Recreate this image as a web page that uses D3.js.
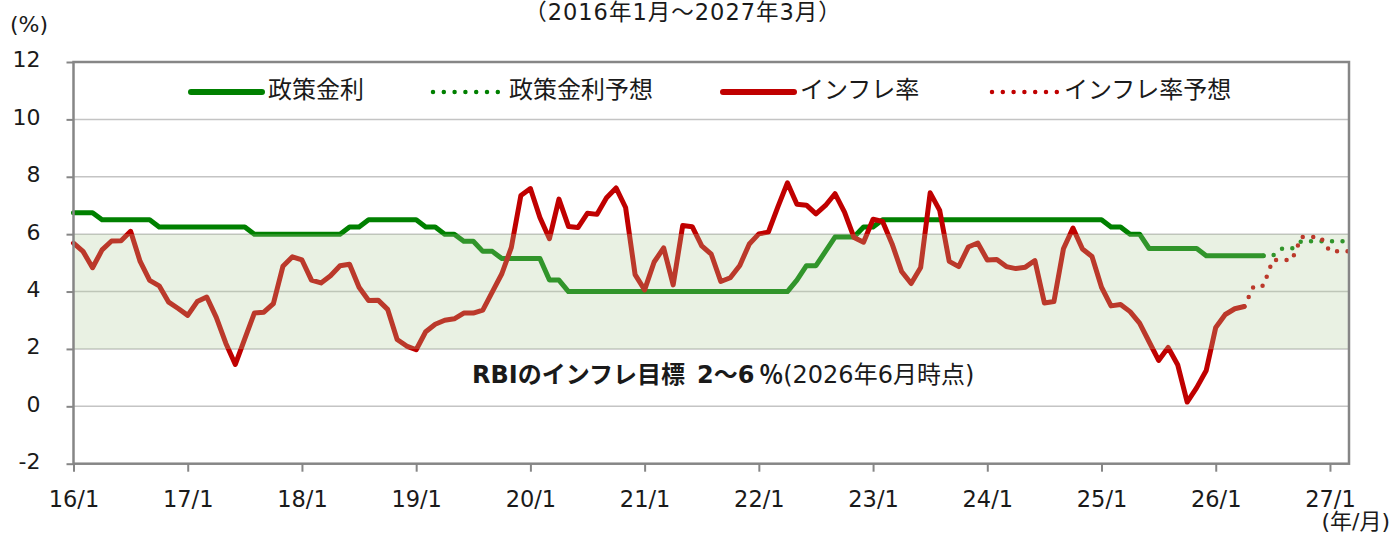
<!DOCTYPE html>
<html>
<head>
<meta charset="utf-8">
<script src="https://cdn.jsdelivr.net/npm/d3@7"></script>
<style>
  body { margin: 0; background: #fff; }
  svg text { font-family: "DejaVu Sans", "Noto Sans CJK JP", sans-serif; fill: #1a1a1a; }
</style>
</head>
<body>
<script>
// monthly, starting 2016/1
const startYear = 2016;
const policyRate = [
  6.75, 6.75, 6.75, 6.5, 6.5, 6.5, 6.5, 6.5, 6.5, 6.25, 6.25, 6.25,
  6.25, 6.25, 6.25, 6.25, 6.25, 6.25, 6.25, 6.0, 6.0, 6.0, 6.0, 6.0,
  6.0, 6.0, 6.0, 6.0, 6.0, 6.25, 6.25, 6.5, 6.5, 6.5, 6.5, 6.5,
  6.5, 6.25, 6.25, 6.0, 6.0, 5.75, 5.75, 5.4, 5.4, 5.15, 5.15, 5.15,
  5.15, 5.15, 4.4, 4.4, 4.0, 4.0, 4.0, 4.0, 4.0, 4.0, 4.0, 4.0,
  4.0, 4.0, 4.0, 4.0, 4.0, 4.0, 4.0, 4.0, 4.0, 4.0, 4.0, 4.0,
  4.0, 4.0, 4.0, 4.0, 4.4, 4.9, 4.9, 5.4, 5.9, 5.9, 5.9, 6.25,
  6.25, 6.5, 6.5, 6.5, 6.5, 6.5, 6.5, 6.5, 6.5, 6.5, 6.5, 6.5,
  6.5, 6.5, 6.5, 6.5, 6.5, 6.5, 6.5, 6.5, 6.5, 6.5, 6.5, 6.5,
  6.5, 6.25, 6.25, 6.0, 6.0, 5.5, 5.5, 5.5, 5.5, 5.5, 5.5, 5.25,
  5.25, 5.25, 5.25, 5.25, 5.25, 5.25
];
const policyForecastStart = 125; // 2026/6
const policyForecast = [5.25, 5.25, 5.5, 5.5, 5.75, 5.75, 5.75, 5.75, 5.75, 5.75];

const inflation = [
  5.69, 5.4, 4.83, 5.45, 5.76, 5.77, 6.1, 5.05, 4.39, 4.2, 3.63, 3.41,
  3.17, 3.65, 3.81, 3.1, 2.2, 1.46, 2.36, 3.25, 3.28, 3.58, 4.88, 5.21,
  5.1, 4.4, 4.3, 4.55, 4.9, 4.95, 4.15, 3.69, 3.7, 3.38, 2.33, 2.1,
  1.97, 2.6, 2.86, 3.0, 3.05, 3.25, 3.25, 3.35, 3.99, 4.62, 5.54, 7.35,
  7.59, 6.58, 5.84, 7.22, 6.27, 6.23, 6.73, 6.69, 7.27, 7.61, 6.93, 4.59,
  4.06, 5.03, 5.52, 4.23, 6.3, 6.26, 5.59, 5.3, 4.35, 4.48, 4.91, 5.66,
  6.01, 6.07, 6.95, 7.79, 7.04, 7.01, 6.71, 7.0, 7.41, 6.77, 5.88, 5.72,
  6.52, 6.44, 5.66, 4.7, 4.28, 4.84, 7.44, 6.83, 5.05, 4.87, 5.55, 5.69,
  5.1, 5.12, 4.87, 4.8, 4.85, 5.08, 3.6, 3.65, 5.49, 6.21, 5.48, 5.22,
  4.15, 3.5, 3.55, 3.3, 2.9, 2.25, 1.6, 2.05, 1.45, 0.15, 0.65, 1.25,
  2.75, 3.2, 3.4, 3.48
];
const inflationForecastStart = 123; // 2026/4
const inflationForecast = [3.48, 4.2, 4.2, 5.1, 5.1, 5.1, 5.9, 5.9, 5.9, 5.4, 5.4, 5.4];

const totalMonths = 135; // 2016/1 .. 2027/3
const yTicks = [-2, 0, 2, 4, 6, 8, 10, 12];
const xTickYears = d3.range(2016, 2028);
const targetBand = [2, 6];

const legendItems = [
  { label: '政策金利', color: '#008000', dotted: false },
  { label: '政策金利予想', color: '#008000', dotted: true },
  { label: 'インフレ率', color: '#c00000', dotted: false },
  { label: 'インフレ率予想', color: '#c00000', dotted: true }
];

const W = 1394, H = 534;
const plotL = 73.5, plotR = 1349, plotT = 62, plotB = 463.7;

const svg = d3.select('body').append('svg')
  .attr('width', W).attr('height', H);

const x = d3.scaleLinear().domain([0, totalMonths - 1]).range([plotL, plotR]);
const y = d3.scaleLinear().domain([-2, 12]).range([plotB, plotT]);

// grid lines
svg.append('g').selectAll('line').data(yTicks.filter(v => v > -2 && v < 12)).join('line')
  .attr('x1', plotL).attr('x2', plotR)
  .attr('y1', d => y(d)).attr('y2', d => y(d))
  .attr('stroke', '#c4c4c4').attr('stroke-width', 1.5);

const line = d3.line().x(d => x(d.i)).y(d => y(d.v));
const toPts = (arr, start) => arr.map((v, k) => ({ i: start + k, v }));

const series = [
  { pts: toPts(policyRate, 0), color: '#008000', dotted: false },
  { pts: toPts(inflation, 0), color: '#c00000', dotted: false },
  { pts: toPts(policyForecast, policyForecastStart), color: '#008000', dotted: true },
  { pts: toPts(inflationForecast, inflationForecastStart), color: '#c00000', dotted: true }
];

svg.append('g').selectAll('path').data(series).join('path')
  .attr('d', d => line(d.pts))
  .attr('fill', 'none')
  .attr('stroke', d => d.color)
  .attr('stroke-width', d => d.dotted ? 4.5 : 5)
  .attr('stroke-linejoin', 'round')
  .attr('stroke-linecap', 'round')
  .attr('stroke-dasharray', d => d.dotted ? '0 10.5' : null);

// inflation target band (semi-transparent, over the lines)
svg.append('rect')
  .attr('x', plotL).attr('width', plotR - plotL)
  .attr('y', y(targetBand[1])).attr('height', y(targetBand[0]) - y(targetBand[1]))
  .attr('fill', 'rgb(176,205,155)').attr('fill-opacity', 0.28);

// axes
const yAxis = svg.append('g').attr('transform', `translate(${plotL},0)`)
  .call(d3.axisLeft(y).tickValues(yTicks).tickSize(7).tickFormat(d => String(d)));
yAxis.select('.domain').remove();
yAxis.selectAll('line').attr('stroke', '#868686').attr('stroke-width', 2);
yAxis.selectAll('text').attr('x', -33).attr('dy', '0.22em')
  .style('font-size', '22px').style('fill', '#1a1a1a');

const xAxis = svg.append('g').attr('transform', `translate(0,${plotB})`)
  .call(d3.axisBottom(x).tickValues(xTickYears.map(yr => (yr - startYear) * 12))
    .tickSize(8).tickFormat(d => `${String(startYear + d / 12).slice(2)}/1`));
xAxis.select('.domain').remove();
xAxis.selectAll('line').attr('stroke', '#868686').attr('stroke-width', 2);
xAxis.selectAll('text').attr('y', 35).attr('dy', '0.35em')
  .style('font-size', '22.5px').style('fill', '#1a1a1a');

// plot border
svg.append('rect')
  .attr('x', plotL).attr('y', plotT).attr('width', plotR - plotL).attr('height', plotB - plotT)
  .attr('fill', 'none').attr('stroke', '#868686').attr('stroke-width', 2.5);

// legend
const legendX = [191, 433, 723, 992];
const legendLen = [71, 70, 71, 66];
const lg = svg.append('g').selectAll('g').data(legendItems).join('g')
  .attr('transform', (d, i) => `translate(${legendX[i]},92)`);
lg.append('line')
  .attr('x1', 0).attr('x2', (d, i) => legendLen[i])
  .attr('stroke', d => d.color)
  .attr('stroke-width', d => d.dotted ? 4.5 : 6)
  .attr('stroke-linecap', 'round')
  .attr('stroke-dasharray', d => d.dotted ? '0 10.8' : null);
lg.append('text')
  .attr('x', (d, i) => legendLen[i] + 6).attr('y', -2).attr('dy', '0.35em')
  .style('font-size', '24px').text(d => d.label);

// titles
svg.append('text').attr('x', 683).attr('y', 20).attr('text-anchor', 'middle')
  .style('font-size', '22.5px').style('letter-spacing', '1px')
  .text('（2016年1月～2027年3月）');
svg.append('text').attr('x', 10).attr('y', 24).attr('dy', '0.35em')
  .style('font-size', '22px').text('(%)');
svg.append('text').attr('x', 1390).attr('y', 521).attr('dy', '0.35em').attr('text-anchor', 'end')
  .style('font-size', '22px').text('(年/月)');

// target annotation
const ann = svg.append('text').attr('x', 472).attr('y', 375).attr('dy', '0.35em')
  .style('font-size', '24px');
ann.append('tspan').style('font-weight', 700).text('RBIのインフレ目標\u20022～6\u2009');
ann.append('tspan').style('font-weight', 700).style('font-family', '"Noto Sans CJK JP"').text('％');
ann.append('tspan').text('(2026年6月時点)');
</script>
</body>
</html>
